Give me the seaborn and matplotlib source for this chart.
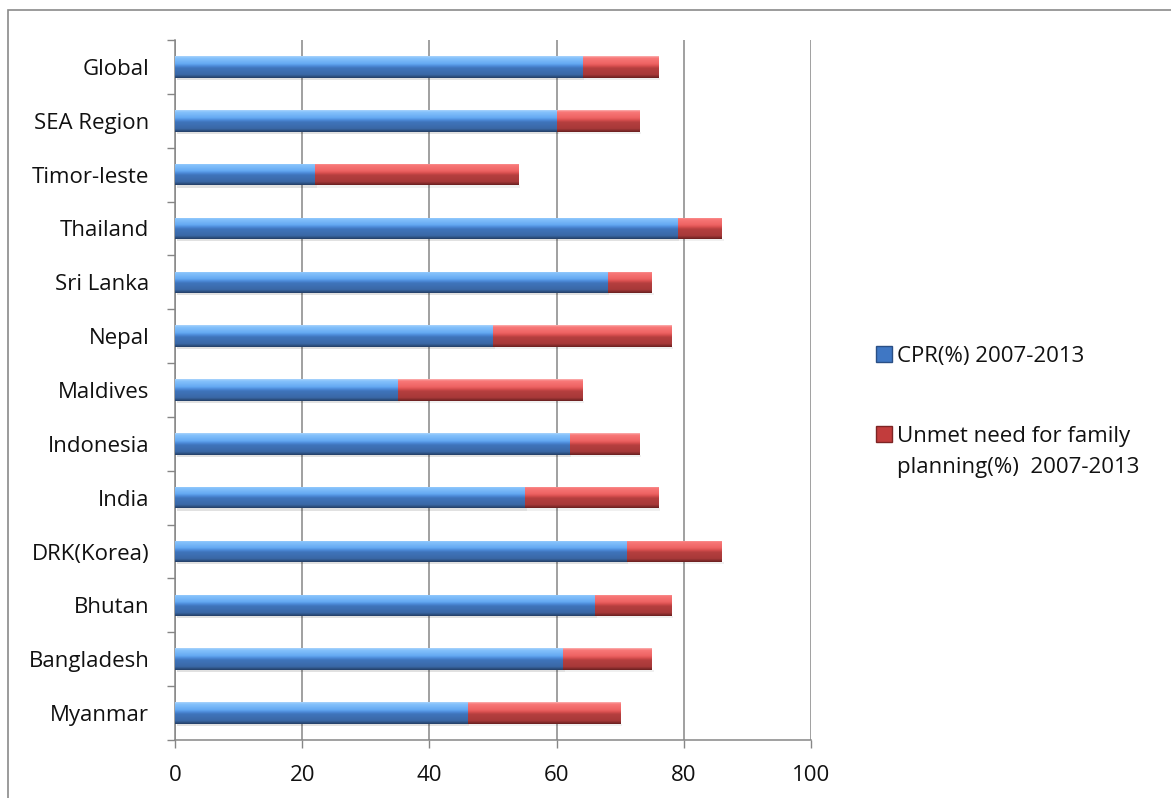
import numpy as np
import pandas as pd
import matplotlib
matplotlib.use("Agg")
import matplotlib.pyplot as plt
from matplotlib.colors import LinearSegmentedColormap
from matplotlib.patches import Patch, Rectangle
import seaborn as sns

countries = ["Global", "SEA Region", "Timor-leste", "Thailand", "Sri Lanka", "Nepal",
             "Maldives", "Indonesia", "India", "DRK(Korea)", "Bhutan", "Bangladesh", "Myanmar"]
cpr = [64, 60, 22, 79, 68, 50, 35, 62, 55, 71, 66, 61, 46]
unmet = [12, 13, 32, 7, 7, 28, 29, 11, 21, 15, 12, 14, 24]
series_labels = ["CPR(%) 2007-2013", "Unmet need for family", "planning(%)  2007-2013"]
x_ticks = [0, 20, 40, 60, 80, 100]

df = pd.DataFrame({"country": countries, "cpr": cpr, "unmet": unmet})
df["total"] = df["cpr"] + df["unmet"]

sns.set_theme(style="white")
plt.rcParams["font.family"] = ["Open Sans", "DejaVu Sans"]

W, H = 1171, 798
FS = 16
fig = plt.figure(figsize=(W / 100, H / 100), dpi=100)
ax = fig.add_axes([175 / W, 1 - 740 / H, (811 - 175) / W, (740 - 40) / H])

blue_mid = "#4a86d0"
red_mid = "#c94444"
sns.barplot(data=df, x="total", y="country", order=countries, color=red_mid,
            orient="h", width=0.4, saturation=1, ax=ax, zorder=3)
n_red = len(ax.patches)
sns.barplot(data=df, x="cpr", y="country", order=countries, color=blue_mid,
            orient="h", width=0.4, saturation=1, ax=ax, zorder=3)

blue_cmap = LinearSegmentedColormap.from_list("b", [
    (0.0, "#a9d3fb"), (0.08, "#86c2fc"), (0.35, "#64a9f2"), (0.45, "#4c8ad8"),
    (0.55, "#3f74bb"), (0.85, "#3a68a6"), (1.0, "#243f66")])
red_cmap = LinearSegmentedColormap.from_list("r", [
    (0.0, "#fbb0b0"), (0.08, "#f87878"), (0.35, "#ee6363"), (0.45, "#d84f4f"),
    (0.55, "#b53f3f"), (0.85, "#a73939"), (1.0, "#6a2020")])
grad = np.linspace(0, 1, 64).reshape(-1, 1)

for i, p in enumerate(list(ax.patches)):
    cmap = red_cmap if i < n_red else blue_cmap
    x0, y0 = p.get_x(), p.get_y()
    w, h = p.get_width(), p.get_height()
    z = 3 if i < n_red else 4
    p.set_zorder(z)
    p.set_edgecolor("none")
    im = ax.imshow(grad, cmap=cmap, aspect="auto", origin="upper",
                   extent=(x0, x0 + w, y0 + h, y0), zorder=z, interpolation="bilinear")
    im.set_clip_path(p)
    # soft shadow under each bar
    ax.add_patch(Rectangle((x0 + 0.3, y0 + h), w, 0.04, color="#000000",
                           alpha=0.06, zorder=2, lw=0))

ax.set_xlim(0, 100)
ax.set_ylim(len(countries) - 0.5, -0.5)
ax.set_xticks(x_ticks)
ax.set_xticklabels([str(t) for t in x_ticks], fontsize=FS, color="#111111")
ax.set_yticks(range(len(countries)))
ax.set_yticklabels(countries, fontsize=FS, color="#111111")
ax.set_yticks(np.arange(-0.5, len(countries)), minor=True)
ax.tick_params(axis="y", which="major", length=0, pad=18.5)
ax.tick_params(axis="y", which="minor", length=5.8, width=1, color="#868686", left=True)
ax.tick_params(axis="x", which="major", length=5.8, width=1, color="#868686",
               bottom=True, pad=12.5)
ax.set_xlabel("")
ax.set_ylabel("")
ax.grid(axis="x", color="#868686", linewidth=1.1, zorder=0)
ax.set_axisbelow(True)
for s in ["top", "right"]:
    ax.spines[s].set_visible(False)
for s in ["left", "bottom"]:
    ax.spines[s].set_color("#868686")
    ax.spines[s].set_linewidth(1.1)

handles = [Patch(facecolor="#3f77c4", edgecolor="#2a4f85"),
           Patch(facecolor="#c23c3c", edgecolor="#7d2424")]
leg = fig.legend(handles, series_labels[:2], loc="upper left",
                 bbox_to_anchor=(856 / W, 1 - 326 / H), frameon=False,
                 fontsize=FS, handlelength=0.72, handleheight=0.72,
                 handletextpad=0.22, labelspacing=2.65)
for t in leg.get_texts():
    t.set_color("#111111")

# second line of the wrapped legend label, placed under the first line
fig.canvas.draw()
bb = leg.get_texts()[1].get_window_extent()
fig.text(bb.x0 / W, (bb.y0 - 31) / H, series_labels[2], fontsize=FS,
         color="#111111", ha="left", va="bottom")

# outer chart frame
fig.patches.append(Rectangle((8 / W, -0.05), 1.2, 1 - 10 / H + 0.05,
                             transform=fig.transFigure, fill=False,
                             edgecolor="#8a8a8a", linewidth=1.2, zorder=0))

fig.savefig("out.png", dpi=100)
